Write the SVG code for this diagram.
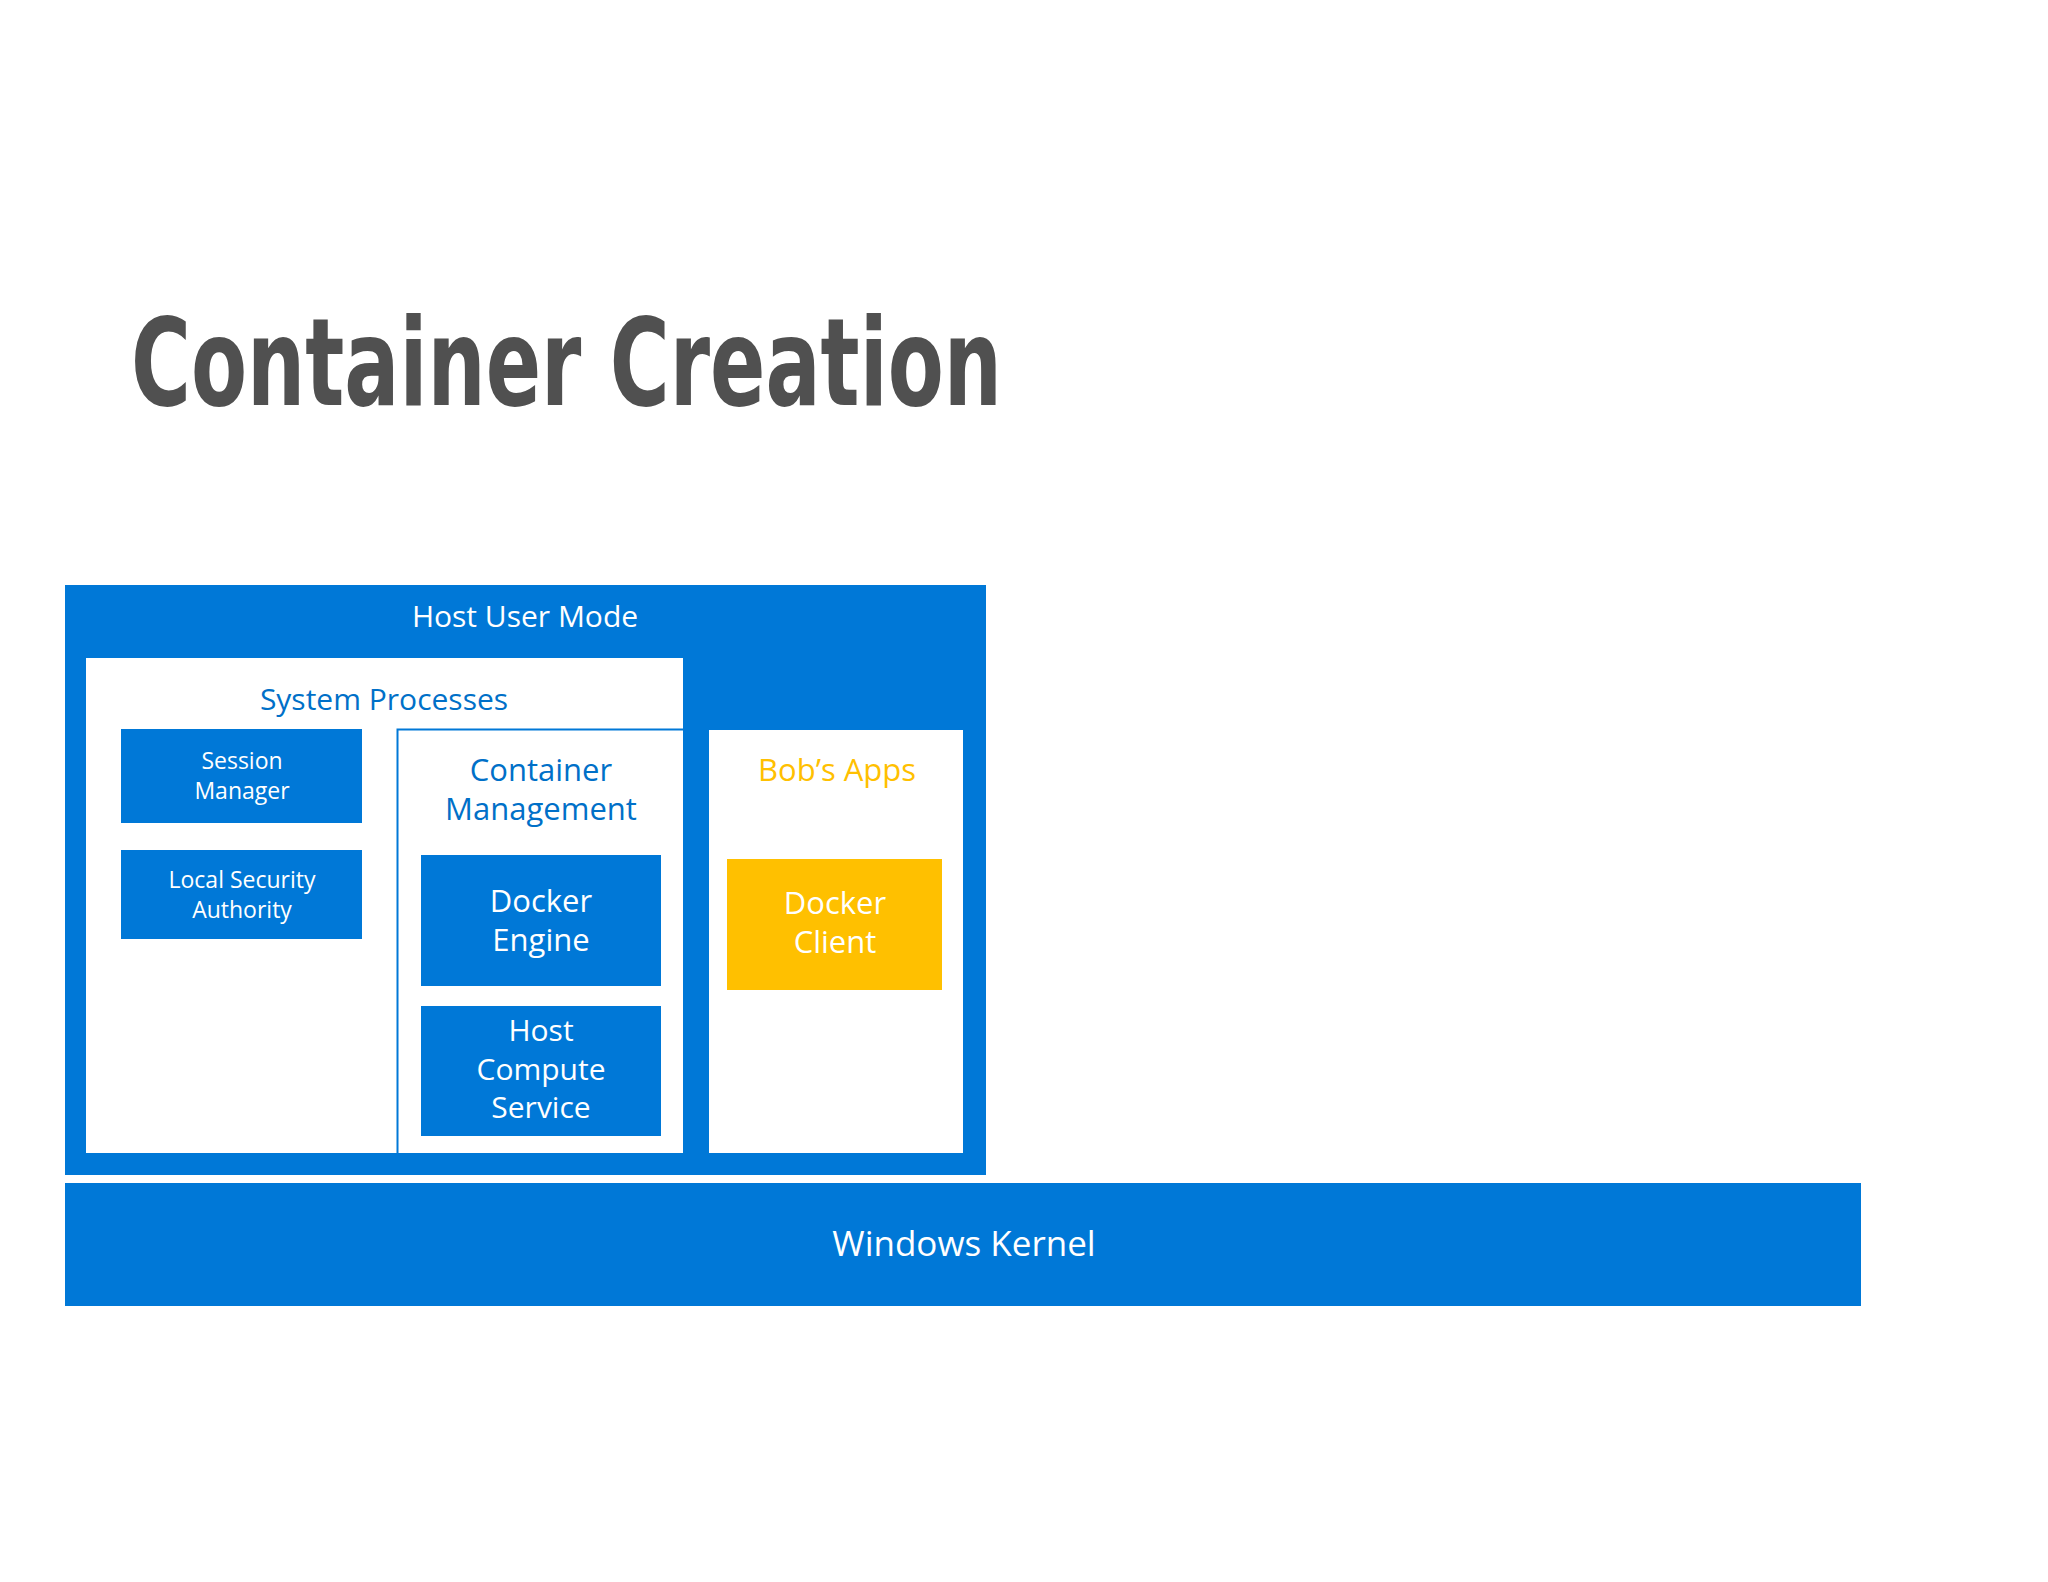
<svg xmlns="http://www.w3.org/2000/svg" width="2048" height="1582" viewBox="0 0 2048 1582">
<style>
.b{fill:#0078D7}
.t{font-family:"Open Sans","Noto Sans",sans-serif;text-anchor:middle}
.w{fill:#fff}
.bl{fill:#0070C8}
</style>
<rect width="2048" height="1582" fill="#fff"/>
<text x="131" y="405" font-family="'DejaVu Sans Condensed','Liberation Sans',sans-serif" font-weight="bold" font-size="122" fill="#505050" textLength="871" lengthAdjust="spacingAndGlyphs">Container Creation</text>
<g id="host"><rect class="b" x="65" y="585" width="921" height="590"/>
<text class="t w" x="525" y="627" font-size="30">Host User Mode</text></g>
<g id="kernel"><rect class="b" x="65" y="1183" width="1796" height="123"/>
<text class="t w" x="964" y="1256" font-size="35">Windows Kernel</text></g>
<g id="sys"><rect fill="#fff" x="86" y="658" width="597" height="495"/>
<text class="t bl" x="384" y="710" font-size="30">System Processes</text></g>
<g id="cm"><path d="M397.5 1153V729.5H683" fill="none" stroke="#0078D7" stroke-width="2"/>
<text class="t bl" x="541" y="781" font-size="31">Container</text>
<text class="t bl" x="541" y="820" font-size="31">Management</text></g>
<g id="sm"><rect class="b" x="121" y="729" width="241" height="94"/>
<text class="t w" x="242" y="769" font-size="23">Session</text><text class="t w" x="242" y="799" font-size="23">Manager</text></g>
<g id="lsa"><rect class="b" x="121" y="850" width="241" height="89"/>
<text class="t w" x="242" y="888" font-size="23">Local Security</text><text class="t w" x="242" y="918" font-size="23">Authority</text></g>
<g id="de"><rect class="b" x="421" y="855" width="240" height="131"/>
<text class="t w" x="541" y="912" font-size="31">Docker</text><text class="t w" x="541" y="951" font-size="31">Engine</text></g>
<g id="hcs"><rect class="b" x="421" y="1006" width="240" height="130"/>
<text class="t w" x="541" y="1041" font-size="30">Host</text><text class="t w" x="541" y="1080" font-size="30">Compute</text><text class="t w" x="541" y="1118" font-size="30">Service</text></g>
<g id="bob"><rect fill="#fff" x="709" y="730" width="254" height="423"/>
<text class="t" fill="#FFC000" x="837" y="781" font-size="31">Bob’s Apps</text></g>
<g id="dc"><rect fill="#FFC000" x="727" y="859" width="215" height="131"/>
<text class="t w" x="835" y="914" font-size="31">Docker</text><text class="t w" x="835" y="953" font-size="31">Client</text></g>
<g id="connectors"/>
</svg>
